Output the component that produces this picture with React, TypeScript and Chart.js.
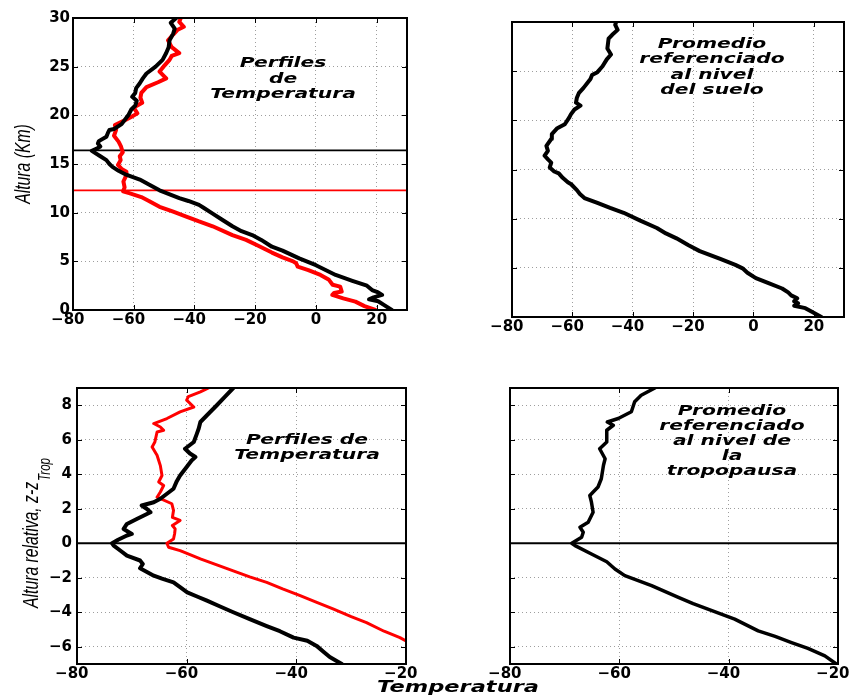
import React, { useEffect, useRef } from 'react';
import { Chart, registerables } from 'chart.js';

Chart.register(...registerables);

const W = 851;
const H = 695;

// ---------- tick values ----------
const groundTicksX = [-80, -60, -40, -20, 0, 20];
const groundTicksY = [0, 5, 10, 15, 20, 25, 30];
const tropTicksX = [-80, -60, -40, -20];
const tropTicksY = [-6, -4, -2, 0, 2, 4, 6, 8];

// ---------- reference lines ----------
const tropopauseBlackKm = 16.4;
const tropopauseRedKm = 12.3;
const relativeZero = 0;

// ---------- top-left: two profiles vs altitude ----------
const groundBlackTemp = [25.0, 22.5, 20.5, 17.5, 19.0, 21.8, 20.5, 18.5, 16.8, 12.0, 6.5, 0.0, -5.5, -11.0, -14.5, -18.0, -21.0, -24.5, -27.5, -31.0, -34.0, -37.0, -38.5, -42.0, -45.0, -51.5, -55.0, -58.0, -62.5, -65.0, -67.0, -68.0, -69.0, -71.0, -73.8, -72.0, -71.0, -71.8, -71.5, -69.0, -68.5, -68.0, -66.5, -64.0, -61.8, -60.8, -59.5, -59.0, -60.5, -59.5, -59.2, -58.0, -57.0, -55.8, -52.8, -50.5, -49.3, -48.5, -48.2, -47.0, -46.5, -47.8, -46.0];
const groundBlackAlt = [0.0, 0.5, 0.9, 1.1, 1.3, 1.55, 1.8, 2.05, 2.5, 3.0, 3.6, 4.6, 5.3, 6.1, 6.5, 7.2, 7.7, 8.1, 8.6, 9.3, 9.9, 10.5, 10.8, 11.2, 11.5, 12.3, 12.9, 13.4, 13.9, 14.3, 14.7, 15.0, 15.4, 15.8, 16.35, 16.6, 16.8, 17.1, 17.35, 17.8, 18.2, 18.5, 18.6, 19.1, 20.0, 20.6, 21.0, 21.5, 21.9, 22.3, 22.8, 23.3, 23.8, 24.3, 25.0, 25.7, 26.4, 27.0, 27.7, 28.4, 28.9, 29.5, 30.0];

const groundRedTemp = [19.6, 16.0, 13.0, 9.0, 5.4, 6.0, 8.5, 8.0, 5.5, 4.3, 1.5, -2.5, -6.0, -6.5, -7.5, -11.0, -14.5, -19.0, -23.0, -27.5, -34.0, -38.5, -42.7, -47.0, -51.5, -55.0, -57.5, -61.5, -63.5, -63.0, -63.4, -62.5, -62.4, -64.0, -65.2, -64.3, -64.6, -63.6, -64.2, -65.0, -66.5, -65.8, -66.2, -63.5, -61.0, -58.8, -60.0, -57.2, -57.8, -57.5, -55.8, -52.0, -49.3, -51.5, -50.2, -48.2, -47.5, -45.0, -47.5, -48.7, -47.0, -45.5, -43.5, -45.0, -44.5];
const groundRedAlt = [0.0, 0.4, 0.86, 1.2, 1.55, 1.75, 1.9, 2.4, 2.6, 3.1, 3.6, 4.1, 4.45, 4.8, 5.0, 5.4, 5.9, 6.6, 7.2, 7.7, 8.6, 9.1, 9.6, 10.1, 10.6, 11.2, 11.6, 12.0, 12.2, 12.6, 13.2, 13.8, 14.2, 14.5, 14.9, 15.4, 15.8, 16.2, 16.8, 17.3, 17.9, 18.5, 19.0, 19.4, 19.8, 20.2, 20.8, 21.3, 21.8, 22.3, 22.9, 23.4, 23.8, 24.5, 25.0, 25.7, 26.1, 26.4, 27.0, 27.7, 28.3, 28.8, 29.1, 29.6, 30.0];

// ---------- top-right: average referenced to ground ----------
const groundAvgTemp = [22.5, 19.5, 17.2, 13.5, 14.8, 13.5, 14.5, 12.5, 11.5, 9.5, 5.0, 0.8, -2.0, -3.6, -6.0, -11.0, -17.8, -21.5, -25.5, -29.0, -32.0, -37.5, -43.0, -47.5, -51.7, -56.0, -57.5, -58.5, -60.4, -61.5, -63.2, -64.5, -66.0, -67.5, -67.0, -68.0, -69.2, -68.1, -68.6, -67.0, -66.8, -65.0, -62.5, -61.0, -60.5, -59.3, -57.3, -58.8, -58.5, -57.8, -56.3, -54.0, -53.5, -51.7, -50.0, -48.6, -47.2, -48.4, -48.0, -46.8, -45.0, -45.8, -45.5];
const groundAvgAlt = [0.0, 0.5, 0.9, 1.15, 1.4, 1.6, 1.9, 2.2, 2.5, 2.9, 3.45, 3.95, 4.5, 4.95, 5.3, 5.9, 6.7, 7.3, 8.0, 8.5, 9.05, 9.8, 10.6, 11.1, 11.6, 12.1, 12.5, 12.9, 13.5, 13.7, 14.15, 14.6, 14.8, 15.2, 15.7, 16.0, 16.4, 16.9, 17.4, 18.1, 18.6, 19.2, 19.6, 20.3, 20.6, 21.1, 21.5, 21.8, 22.3, 22.8, 23.3, 24.2, 24.6, 24.9, 25.5, 26.2, 26.7, 27.3, 28.3, 28.7, 29.2, 29.7, 30.0];

// ---------- bottom-left: profiles vs height relative to tropopause ----------
const tropBlackTemp = [-31.7, -32.5, -33.9, -35.0, -36.3, -38.0, -40.5, -43.0, -45.4, -48.5, -51.5, -54.0, -56.3, -58.0, -59.9, -61.2, -62.4, -64.5, -66.0, -68.5, -68.0, -68.5, -70.9, -72.0, -73.3, -73.6, -72.5, -70.9, -70.0, -71.5, -70.9, -69.1, -66.6, -67.3, -68.2, -66.0, -64.8, -63.6, -62.4, -61.8, -61.2, -60.0, -59.1, -58.4, -59.4, -60.3, -58.7, -58.2, -57.8, -57.5, -56.3, -54.5, -53.0, -51.5];
const tropBlackZ = [-7.0, -6.85, -6.6, -6.3, -5.95, -5.65, -5.47, -5.1, -4.8, -4.4, -4.0, -3.65, -3.33, -3.1, -2.85, -2.55, -2.27, -2.05, -1.88, -1.45, -1.2, -1.0, -0.72, -0.45, -0.14, 0.0, 0.2, 0.45, 0.54, 0.83, 1.12, 1.41, 1.8, 2.0, 2.19, 2.38, 2.58, 2.87, 3.16, 3.6, 3.93, 4.42, 4.8, 5.0, 5.2, 5.48, 5.87, 6.3, 6.65, 7.03, 7.42, 8.0, 8.5, 9.0];

const tropRedTemp = [-20.0, -21.1, -24.0, -27.2, -30.0, -33.2, -36.5, -39.3, -42.5, -45.4, -48.5, -51.5, -54.5, -57.5, -59.5, -61.2, -63.3, -63.6, -62.4, -62.2, -62.1, -62.6, -61.2, -62.6, -62.4, -62.7, -65.4, -64.8, -64.2, -65.1, -64.5, -64.8, -65.4, -66.3, -65.8, -65.4, -64.2, -64.8, -66.0, -63.6, -61.2, -58.7, -60.0, -59.7, -57.5, -56.0];
const tropRedZ = [-5.66, -5.47, -5.1, -4.6, -4.25, -3.82, -3.4, -3.04, -2.65, -2.27, -1.95, -1.6, -1.25, -0.91, -0.65, -0.43, -0.23, 0.0, 0.25, 0.55, 0.83, 1.03, 1.32, 1.5, 1.9, 2.29, 2.67, 2.97, 3.35, 3.55, 3.93, 4.5, 5.1, 5.58, 5.87, 6.45, 6.55, 6.74, 6.94, 7.23, 7.62, 7.9, 8.3, 8.5, 8.78, 9.0];

// ---------- bottom-right: average referenced to tropopause ----------
const tropAvgTemp = [-20.3, -22.4, -25.5, -28.5, -31.5, -34.6, -38.9, -43.8, -46.5, -49.2, -54.1, -59.0, -60.8, -62.3, -65.1, -68.1, -68.7, -66.9, -66.6, -67.2, -65.7, -64.8, -65.1, -65.4, -63.9, -63.3, -62.9, -62.6, -63.6, -62.3, -62.3, -61.1, -62.2, -60.2, -57.8, -57.2, -56.0, -53.5];
const tropAvgZ = [-7.0, -6.53, -6.1, -5.76, -5.4, -5.08, -4.4, -3.82, -3.5, -3.14, -2.46, -1.88, -1.49, -1.07, -0.62, -0.14, 0.0, 0.35, 0.64, 0.93, 1.22, 1.8, 2.38, 2.77, 3.26, 3.74, 4.52, 4.9, 5.48, 5.87, 6.55, 6.84, 7.03, 7.23, 7.62, 8.2, 8.58, 9.0];

// ---------- texts ----------
const noteTL = ['Perfiles', 'de', 'Temperatura'];
const noteTR = ['Promedio', 'referenciado', 'al nivel', 'del suelo'];
const noteBL = ['Perfiles de', 'Temperatura'];
const noteBR = ['Promedio', 'referenciado', 'al nivel de', 'la', 'tropopausa'];
const yTitleTop = 'Altura (Km)';
const yTitleBottom = 'Altura relativa, z-z';
const yTitleBottomSub = 'Trop';
const xTitle = 'Temperatura';

// ---------- helpers ----------
const zip = (xs: number[], ys: number[]) => {
  const n = Math.min(xs.length, ys.length);
  const out: { x: number; y: number }[] = [];
  for (let i = 0; i < n; i++) out.push({ x: xs[i], y: ys[i] });
  return out;
};

const curve = (xs: number[], ys: number[], color: string, width: number) => ({
  data: zip(xs, ys),
  showLine: true,
  borderColor: color,
  backgroundColor: color,
  borderWidth: width,
  pointRadius: 0,
  borderJoinStyle: 'round',
  borderCapStyle: 'round',
  fill: false,
  tension: 0,
});

const hline = (y: number, x0: number, x1: number, color: string) => ({
  data: [{ x: x0, y }, { x: x1, y }],
  showLine: true,
  borderColor: color,
  borderWidth: 1.8,
  pointRadius: 0,
  fill: false,
});

const fmt = (v: number) => (v < 0 ? '\u2212' + Math.abs(v) + '\u2007' : String(v));

const Y_AXIS_W = 40;
const X_AXIS_H = 24;
const TICK_LEN = 5;
const NOTE_FONT = "italic bold 13.5px 'DejaVu Sans', sans-serif";
const NOTE_SX = 1.5;

type Note = { lines: string[]; cx: number; y0: number; dy: number };
type YTitle = { text: string; sub?: string; x: number; y: number; align: 'center' | 'left' };

type Panel = {
  key: string;
  area: { l: number; t: number; r: number; b: number };
  xRange: [number, number];
  yRange: [number, number];
  xTicks: number[];
  yTicks: number[];
  showYLabels: boolean;
  yPad: number;
  datasets: any[];
  note: Note;
  yTitle?: YTitle;
  xTitle?: boolean;
};

function drawStretched(ctx: CanvasRenderingContext2D, text: string, x: number, y: number, font: string, sx: number) {
  ctx.save();
  ctx.font = font;
  ctx.translate(x, y);
  ctx.scale(sx, 1);
  ctx.textAlign = 'center';
  ctx.textBaseline = 'alphabetic';
  ctx.fillText(text, 0, 0);
  ctx.restore();
}

function decorPlugin(p: Panel) {
  return {
    id: 'decor_' + p.key,
    afterDraw(chart: any) {
      const { ctx, chartArea: a, scales } = chart;
      const xs = scales.x;
      const ys = scales.y;
      ctx.save();
      ctx.strokeStyle = '#000';
      ctx.lineWidth = 1;
      ctx.beginPath();
      p.xTicks.forEach((v) => {
        const px = Math.round(xs.getPixelForValue(v)) + 0.5;
        ctx.moveTo(px, a.bottom);
        ctx.lineTo(px, a.bottom - TICK_LEN);
        ctx.moveTo(px, a.top);
        ctx.lineTo(px, a.top + TICK_LEN);
      });
      p.yTicks.forEach((v) => {
        const py = Math.round(ys.getPixelForValue(v)) + 0.5;
        ctx.moveTo(a.left, py);
        ctx.lineTo(a.left + TICK_LEN, py);
        ctx.moveTo(a.right, py);
        ctx.lineTo(a.right - TICK_LEN, py);
      });
      ctx.stroke();
      ctx.lineWidth = 2;
      ctx.strokeRect(a.left, a.top, a.right - a.left, a.bottom - a.top);

      ctx.fillStyle = '#000';
      p.note.lines.forEach((line, i) => {
        drawStretched(ctx, line, p.note.cx, p.note.y0 + i * p.note.dy, NOTE_FONT, NOTE_SX);
      });

      if (p.yTitle) {
        const t = p.yTitle;
        ctx.save();
        ctx.translate(t.x, t.y);
        ctx.rotate(-Math.PI / 2);
        ctx.scale(1.05, 1.45);
        ctx.font = "italic 15px 'Liberation Sans', Arial, sans-serif";
        ctx.textBaseline = 'alphabetic';
        ctx.textAlign = t.align;
        ctx.fillText(t.text, 0, 0);
        if (t.sub) {
          const w = ctx.measureText(t.text).width;
          ctx.font = "italic 11px 'Liberation Sans', Arial, sans-serif";
          ctx.textAlign = 'left';
          ctx.fillText(t.sub, w + 1, 8);
        }
        ctx.restore();
      }

      if (p.xTitle) {
        drawStretched(ctx, xTitle, 458, 692, "italic bold 15px 'DejaVu Sans', sans-serif", 1.5);
      }
      ctx.restore();
    },
  };
}

function buildConfig(p: Panel): any {
  const tickFont = { family: "'DejaVu Sans', sans-serif", size: 15, weight: 'bold' };
  const grid = { color: 'rgba(0,0,0,0.38)', lineWidth: 1, drawTicks: false, tickLength: 0 };
  const border = { display: false, dash: [1, 3] };
  return {
    type: 'scatter',
    data: { datasets: p.datasets },
    options: {
      responsive: false,
      animation: false,
      devicePixelRatio: 1,
      events: [],
      layout: {
        padding: {
          left: p.area.l - Y_AXIS_W,
          right: W - p.area.r,
          top: p.area.t,
          bottom: H - p.area.b - X_AXIS_H,
        },
      },
      plugins: { legend: { display: false }, tooltip: { enabled: false }, title: { display: false } },
      scales: {
        x: {
          type: 'linear',
          min: p.xRange[0],
          max: p.xRange[1],
          grid,
          border,
          afterBuildTicks: (s: any) => {
            s.ticks = p.xTicks.map((v) => ({ value: v }));
          },
          afterFit: (s: any) => {
            s.height = X_AXIS_H;
            s.paddingLeft = 0;
            s.paddingRight = 0;
          },
          ticks: {
            font: tickFont,
            color: '#000',
            padding: 1,
            maxRotation: 0,
            autoSkip: false,
            callback: (v: number) => fmt(v),
          },
        },
        y: {
          type: 'linear',
          min: p.yRange[0],
          max: p.yRange[1],
          grid,
          border,
          afterBuildTicks: (s: any) => {
            s.ticks = p.yTicks.map((v) => ({ value: v }));
          },
          afterFit: (s: any) => {
            s.width = Y_AXIS_W;
            s.paddingTop = 0;
            s.paddingBottom = 0;
          },
          ticks: {
            display: p.showYLabels,
            font: tickFont,
            color: '#000',
            padding: p.yPad,
            autoSkip: false,
            callback: (v: number) => (v < 0 ? '\u2212' + Math.abs(v) : String(v)),
          },
        },
      },
    },
    plugins: [decorPlugin(p)],
  };
}

const PANELS: Panel[] = [
  {
    key: 'tl',
    area: { l: 73, t: 18, r: 407, b: 310 },
    xRange: [-80, 30],
    yRange: [0, 30],
    xTicks: groundTicksX,
    yTicks: groundTicksY,
    showYLabels: true,
    yPad: 3,
    datasets: [
      curve(groundBlackTemp, groundBlackAlt, '#000000', 4),
      curve(groundRedTemp, groundRedAlt, '#ff0000', 4),
      hline(tropopauseBlackKm, -80, 30, '#000000'),
      hline(tropopauseRedKm, -80, 30, '#ff0000'),
    ],
    note: { lines: noteTL, cx: 283, y0: 67, dy: 15.5 },
    yTitle: { text: yTitleTop, x: 30, y: 164, align: 'center' },
  },
  {
    key: 'tr',
    area: { l: 512, t: 22, r: 844, b: 317 },
    xRange: [-80, 30],
    yRange: [0, 30],
    xTicks: groundTicksX,
    yTicks: groundTicksY,
    showYLabels: false,
    yPad: 3,
    datasets: [curve(groundAvgTemp, groundAvgAlt, '#000000', 4)],
    note: { lines: noteTR, cx: 712, y0: 48, dy: 15.3 },
  },
  {
    key: 'bl',
    area: { l: 77, t: 388, r: 406, b: 664 },
    xRange: [-80, -20],
    yRange: [-7, 9],
    xTicks: tropTicksX,
    yTicks: tropTicksY,
    showYLabels: true,
    yPad: 5,
    datasets: [
      curve(tropBlackTemp, tropBlackZ, '#000000', 4),
      curve(tropRedTemp, tropRedZ, '#ff0000', 3),
      hline(relativeZero, -80, -20, '#000000'),
    ],
    note: { lines: noteBL, cx: 307, y0: 444, dy: 15 },
    yTitle: { text: yTitleBottom, sub: yTitleBottomSub, x: 38, y: 608, align: 'left' },
    xTitle: true,
  },
  {
    key: 'br',
    area: { l: 510, t: 388, r: 838, b: 664 },
    xRange: [-80, -20],
    yRange: [-7, 9],
    xTicks: tropTicksX,
    yTicks: tropTicksY,
    showYLabels: false,
    yPad: 3,
    datasets: [
      curve(tropAvgTemp, tropAvgZ, '#000000', 3.5),
      hline(relativeZero, -80, -20, '#000000'),
    ],
    note: { lines: noteBR, cx: 732, y0: 415, dy: 15 },
  },
];

export default function App() {
  const refs = useRef<(HTMLCanvasElement | null)[]>([]);
  useEffect(() => {
    const charts = PANELS.map((p, i) => new Chart(refs.current[i] as HTMLCanvasElement, buildConfig(p)));
    return () => charts.forEach((c) => c.destroy());
  }, []);
  return (
    <div style={{ position: 'absolute', left: 0, top: 0, width: W, height: H, background: '#fff', overflow: 'hidden' }}>
      {PANELS.map((p, i) => (
        <canvas
          key={p.key}
          ref={(el) => {
            refs.current[i] = el;
          }}
          width={W}
          height={H}
          style={{ position: 'absolute', left: 0, top: 0, width: W, height: H }}
        />
      ))}
    </div>
  );
}
